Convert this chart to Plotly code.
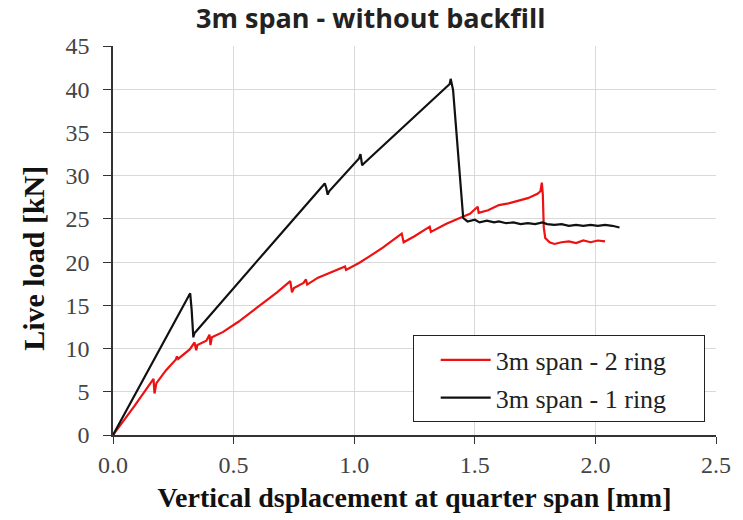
import plotly.graph_objects as go

# ---- data ----
x_2ring = [0, 0.09, 0.168, 0.172, 0.18, 0.22, 0.26, 0.265, 0.27, 0.318, 0.338, 0.345, 0.35,
           0.387, 0.40, 0.404, 0.41, 0.455, 0.52, 0.60, 0.68, 0.735, 0.742, 0.75, 0.79, 0.80,
           0.805, 0.85, 0.92, 0.962, 0.966, 1.02, 1.06, 1.12, 1.197, 1.205, 1.25, 1.313, 1.318,
           1.38, 1.445, 1.48, 1.512, 1.516, 1.555, 1.60, 1.64, 1.68, 1.72, 1.76, 1.772, 1.778,
           1.782, 1.786, 1.792, 1.81, 1.83, 1.86, 1.89, 1.92, 1.95, 1.98, 2.01, 2.04]
y_2ring = [0, 3.4, 6.5, 4.8, 6.0, 7.5, 8.7, 9.1, 8.8, 9.9, 10.7, 9.8, 10.4,
           10.9, 11.6, 10.4, 11.3, 11.9, 13.1, 14.8, 16.5, 17.8, 16.5, 17.0, 17.6, 18.0,
           17.4, 18.2, 19.0, 19.5, 19.1, 19.9, 20.6, 21.7, 23.3, 22.3, 23.0, 24.1, 23.5,
           24.4, 25.2, 25.6, 26.4, 25.7, 26.0, 26.6, 26.8, 27.1, 27.4, 27.9, 28.2, 29.2,
           27.8, 24.0, 22.8, 22.3, 22.1, 22.3, 22.4, 22.2, 22.5, 22.3, 22.5, 22.4]

x_1ring = [0, 0.32, 0.326, 0.333, 0.338, 0.345, 0.60, 0.878, 0.884, 0.89, 0.896, 1.02, 1.026,
           1.033, 1.04, 1.20, 1.396, 1.40, 1.405, 1.41, 1.452, 1.47, 1.50, 1.52, 1.55, 1.58,
           1.60, 1.63, 1.66, 1.69, 1.72, 1.75, 1.78, 1.80, 1.83, 1.86, 1.89, 1.92, 1.95, 1.98,
           2.01, 2.04, 2.07, 2.10]
y_1ring = [0, 16.4, 14.5, 11.3, 11.8, 12.0, 20.2, 29.1, 28.6, 27.8, 28.2, 32.0, 32.5,
           31.2, 31.4, 35.5, 40.6, 41.2, 40.3, 39.9, 25.1, 24.7, 24.9, 24.6, 24.8, 24.6,
           24.7, 24.5, 24.6, 24.4, 24.5, 24.4, 24.6, 24.4, 24.3, 24.4, 24.2, 24.3, 24.2, 24.3,
           24.2, 24.3, 24.2, 24.0]

names = ["3m span - 2 ring", "3m span - 1 ring"]
x_ticks = [0.0, 0.5, 1.0, 1.5, 2.0, 2.5]
x_ticklabels = ["0.0", "0.5", "1.0", "1.5", "2.0", "2.5"]
y_ticks = list(range(0, 50, 5))

title_text = "3m span - without backfill"
x_title = "Vertical dsplacement at quarter span [mm]"
y_title = "Live load [kN]"

# ---- figure ----
pad = "\u00a0" * 5
fig = go.Figure()
fig.add_trace(go.Scatter(x=x_2ring, y=y_2ring, mode="lines", name=names[0] + pad,
                         legendgroup="a", line=dict(color="#ee1111", width=2.2)))
fig.add_trace(go.Scatter(x=x_1ring, y=y_1ring, mode="lines", name=names[1] + pad,
                         legendgroup="b", line=dict(color="#111111", width=2.2)))

serif = "Liberation Serif, Times New Roman, serif"
fig.update_layout(
    width=743, height=520,
    margin=dict(l=113, r=24, t=46, b=84),
    paper_bgcolor="white", plot_bgcolor="white",
    title=dict(text="<b>" + title_text + "</b>", x=0.499, xanchor="center",
               y=1 - 19 / 520, yanchor="middle",
               font=dict(family="Open Sans, sans-serif", size=27, color="#222222")),
    showlegend=True,
    legend=dict(x=0.497, y=0.256, xanchor="left", yanchor="top",
                bgcolor="white", bordercolor="#222222", borderwidth=1,
                font=dict(family=serif, size=26, color="#222222"),
                tracegroupgap=1, itemwidth=50, indentation=22),
    xaxis=dict(range=[0, 2.5], tickvals=x_ticks, ticktext=x_ticklabels,
               showgrid=True, gridcolor="#d9d9d9", gridwidth=1,
               showline=True, linecolor="#333333", linewidth=1.5,
               ticks="outside", ticklen=7, tickcolor="#333333",
               tickfont=dict(family=serif, size=24, color="#444444"),
               zeroline=False,
               title=dict(text="<b>" + x_title + "</b>", standoff=11,
                          font=dict(family=serif, size=28, color="#111111"))),
    yaxis=dict(range=[0, 45], tickvals=y_ticks,
               showgrid=True, gridcolor="#d9d9d9", gridwidth=1,
               showline=True, linecolor="#333333", linewidth=1.5,
               ticks="outside", ticklen=8, tickcolor="#333333",
               ticklabelstandoff=9,
               tickfont=dict(family=serif, size=24, color="#444444"),
               zeroline=False),
    annotations=[dict(text="<b>" + y_title + "</b>", textangle=-90,
                      xref="paper", yref="paper", x=-0.132, y=0.454,
                      xanchor="center", yanchor="middle", showarrow=False,
                      font=dict(family=serif, size=30, color="#111111"))],
)

fig.write_html("out.html")
